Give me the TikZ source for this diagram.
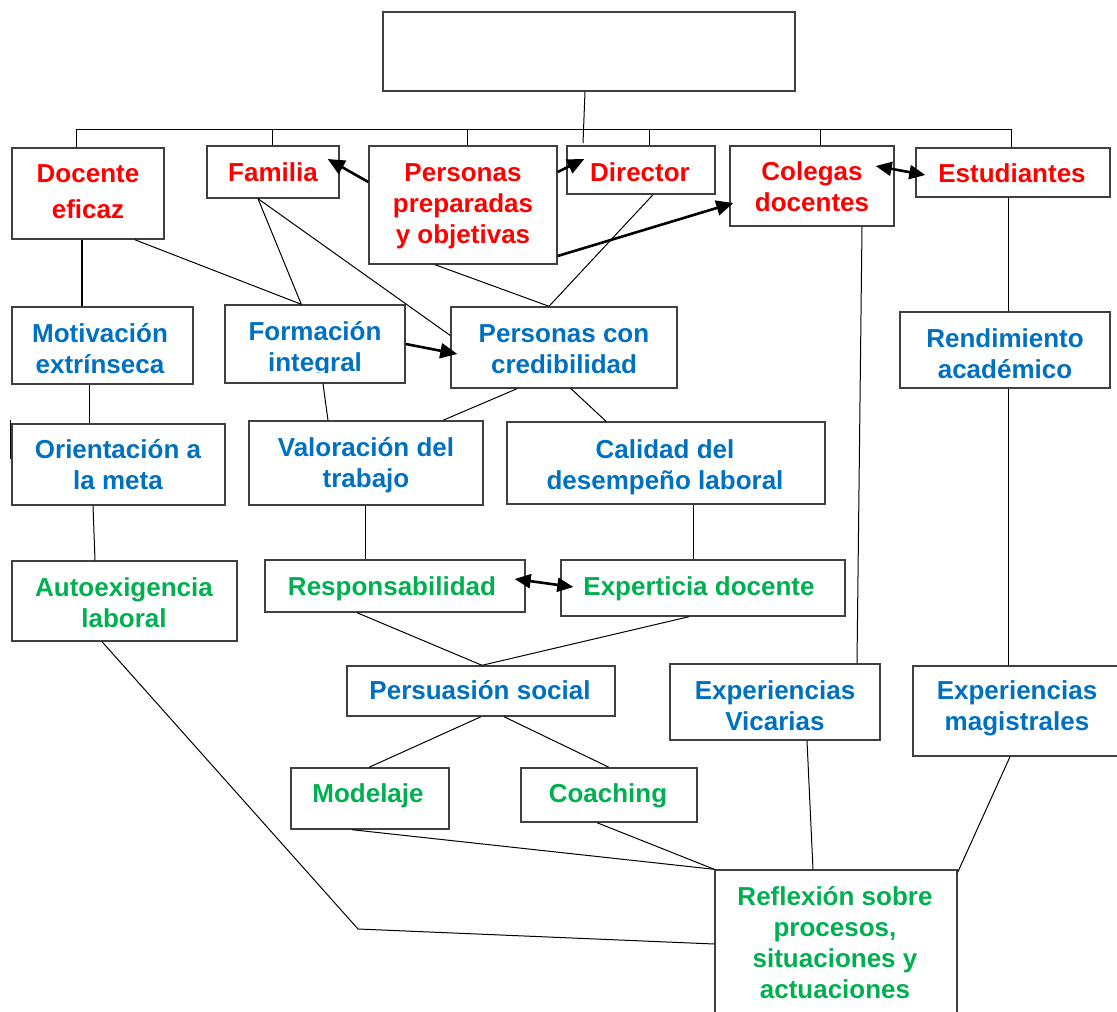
\documentclass[tikz,border=0pt]{standalone}
\usepackage{fontspec}
\setmainfont{Liberation Sans}
\usetikzlibrary{arrows.meta}
\definecolor{tred}{RGB}{255,0,0}
\definecolor{tblue}{RGB}{0,112,192}
\definecolor{tgreen}{RGB}{0,176,80}
\definecolor{edgegray}{RGB}{64,64,64}

\begin{document}
\begin{tikzpicture}[x=1pt,y=-1pt,
  box/.style={draw=edgegray, line width=1.4pt, rectangle, inner sep=0pt},
  lbl/.style={inner sep=0pt, align=center, font=\fontsize{26}{31}\selectfont\bfseries},
  rl/.style={lbl, text=tred},
  bl/.style={lbl, text=tblue},
  gl/.style={lbl, text=tgreen},
  conn/.style={draw=black, line width=1pt},
  heavy/.style={draw=black, line width=1.8pt},
  arr/.style={draw=black, line width=2.6pt, -{Triangle[length=17pt,width=15pt]}},
  darr/.style={draw=black, line width=2.6pt, {Triangle[length=16pt,width=14pt]}-{Triangle[length=16pt,width=14pt]}}
]
\fill[white] (0,0) rectangle (1117,1012);
\useasboundingbox (0,0) rectangle (1117,1012);

% ---------- boxes ----------
\node[box, minimum width=412pt, minimum height=79pt] (top) at (589,51.5) {};

\node[box, minimum width=152pt, minimum height=91pt]  (doc) at (88,193.5) {};
\node[box, minimum width=132pt, minimum height=52pt]  (fam) at (273,172) {};
\node[box, minimum width=188pt, minimum height=118pt] (ppo) at (463,205) {};
\node[box, minimum width=148pt, minimum height=48pt]  (dir) at (641,170) {};
\node[box, minimum width=164pt, minimum height=80pt]  (col) at (812,186) {};
\node[box, minimum width=194pt, minimum height=49pt]  (est) at (1013,172.5) {};

\node[box, minimum width=181pt, minimum height=77pt]  (mot) at (102.5,345.5) {};
\node[box, minimum width=180pt, minimum height=78pt]  (frm) at (315,344) {};
\node[box, minimum width=226pt, minimum height=81pt]  (pcc) at (564,347.5) {};
\node[box, minimum width=210pt, minimum height=76pt]  (ren) at (1005,350) {};

\node[box, minimum width=213pt, minimum height=81pt]  (ori) at (118.5,464.5) {};
\node[box, minimum width=234pt, minimum height=84pt]  (val) at (366,463) {};
\node[box, minimum width=318pt, minimum height=82pt]  (cal) at (666,463) {};

\node[box, minimum width=225pt, minimum height=80pt]  (aut) at (124.5,601) {};
\node[box, minimum width=260pt, minimum height=52pt]  (res) at (395,586) {};
\node[box, minimum width=284pt, minimum height=56pt]  (exd) at (703,588) {};

\node[box, minimum width=268pt, minimum height=50pt]  (per) at (481,691) {};
\node[box, minimum width=210pt, minimum height=76pt]  (exv) at (775,702) {};
\node[box, minimum width=209pt, minimum height=90pt]  (exm) at (1017.5,711) {};

\node[box, minimum width=158pt, minimum height=61pt]  (mod) at (370,798.5) {};
\node[box, minimum width=176pt, minimum height=54pt]  (coa) at (609,795) {};

\node[box, minimum width=242pt, minimum height=160pt] (ref) at (836,950) {};

% ---------- labels ----------
\node[rl, font=\fontsize{26}{36}\selectfont\bfseries] (docT) at (88,193) {\strut Docente\\\strut eficaz};
\node[rl] (famT) at (273,175) {\strut Familia};
\node[rl] (ppoT) at (463,206) {\strut Personas\\\strut preparadas\\\strut y objetivas};
\node[rl] (dirT) at (640,175) {\strut Director};
\node[rl] (colT) at (812,190) {\strut Colegas\\\strut docentes};
\node[rl] (estT) at (1012,176) {\strut Estudiantes};

\node[bl] (motT) at (100,352) {\strut Motivación\\\strut extrínseca};
\begin{scope}
  \clip (225,305) rectangle (405,372);
  \node[bl] (frmT) at (315,349.5) {\strut Formación\\\strut integral};
\end{scope}
\node[bl] (pccT) at (564,352) {\strut Personas con\\\strut credibilidad};
\node[bl] (renT) at (1005,357) {\strut Rendimiento\\\strut académico};

\node[bl] (oriT) at (118,468) {\strut Orientación a\\\strut la meta};
\node[bl] (valT) at (366,466) {\strut Valoración del\\\strut trabajo};
\node[bl] (calT) at (665,468) {\strut Calidad del\\\strut desempeño laboral};

\node[gl] (autT) at (124,606) {\strut Autoexigencia\\\strut laboral};
\node[gl] (resT) at (392,589) {\strut Responsabilidad};
\node[gl] (exdT) at (699,589) {\strut Experticia docente};

\node[bl] (perT) at (480,693) {\strut Persuasión social};
\node[bl] (exvT) at (775,709) {\strut Experiencias\\\strut Vicarias};
\node[bl] (exmT) at (1017,709) {\strut Experiencias\\\strut magistrales};

\node[gl] (modT) at (368,796) {\strut Modelaje};
\node[gl] (coaT) at (608,796) {\strut Coaching};

\node[gl] (refT) at (835,946) {\strut Reflexión sobre\\\strut procesos,\\\strut situaciones y\\\strut actuaciones};

% ---------- top tree ----------
\coordinate (busL) at (76,129);
\coordinate (busR) at (1012,129);
\coordinate (hub) at (583,143);
\coordinate (t1) at (76,129);
\coordinate (t2) at (272,129);
\coordinate (t3) at (467,129);
\coordinate (t4) at (649,129);
\coordinate (t5) at (820,129);
\coordinate (t6) at (1011,129);

\draw[conn] ([xshift=-4pt]top.south) -- (hub);
\draw[conn] (busL) -- (busR);
\draw[conn] (t1) -- (doc.north -| t1);
\draw[conn] (t2) -- (fam.north -| t2);
\draw[conn] (t3) -- (ppo.north -| t3);
\draw[conn] (t4) -- (dir.north -| t4);
\draw[conn] (t5) -- (col.north -| t5);
\draw[conn] (t6) -- (est.north -| t6);

% ---------- thin connectors ----------
\draw[heavy] ([xshift=-6pt]doc.south) -- ([xshift=-20.5pt]mot.north);
\draw[conn] ([xshift=-30pt]doc.south east) -- ([xshift=77pt]frm.north west);
\draw[conn] ([xshift=-15pt]fam.south) -- ([xshift=77pt]frm.north west);
\draw[conn] ([xshift=-15pt]fam.south) -- ([yshift=12pt]pcc.west);
\draw[conn] ([xshift=-28pt]ppo.south) -- ([xshift=-15pt]pcc.north);
\draw[conn] ([xshift=12pt]dir.south) -- ([xshift=-15pt]pcc.north);
\draw[conn] ([xshift=8pt]frm.south) -- ([xshift=-38pt]val.north);
\draw[conn] ([xshift=-47pt]pcc.south) -- ([xshift=77pt]val.north);
\draw[conn] ([xshift=7pt]pcc.south) -- ([xshift=-60pt]cal.north);
\draw[conn] ([xshift=-13.5pt]mot.south) -- ([xshift=-29.5pt]ori.north);
\draw[conn] ([xshift=-25.5pt]ori.south) -- ([xshift=-29.5pt]aut.north);
\draw[conn] ([xshift=-1pt]val.south) -- ([xshift=-30pt]res.north);
\draw[conn] ([xshift=27pt]cal.south) -- ([xshift=-10pt]exd.north);
\draw[conn] ([xshift=-38pt]res.south) -- ([xshift=1pt]per.north);
\draw[conn] ([xshift=-14pt]exd.south) -- ([xshift=1pt]per.north);
\draw[conn] (per.south) -- ([xshift=-1pt]mod.north);
\draw[conn] ([xshift=23pt]per.south) -- (coa.north);
\draw[conn] ([xshift=-18pt]mod.south) -- (ref.north west);
\draw[conn] ([xshift=-12pt]coa.south) -- (ref.north west);
\draw[conn] ([xshift=32pt]exv.south) -- ([xshift=-23pt]ref.north);
\draw[conn] ([xshift=-7.5pt]exm.south) -- ([yshift=-3pt]ref.north east);
\draw[conn] ([xshift=50pt]col.south) -- ([xshift=82pt]exv.north);
\draw[conn] ([xshift=-5pt]est.south) -- ([xshift=3pt]ren.north);
\draw[conn] ([xshift=3pt]ren.south) -- ([xshift=-9.5pt]exm.north);
\coordinate (bend) at (358,929);
\draw[conn] ([xshift=-22.5pt]aut.south) -- (bend) -- ([yshift=6pt]ref.west);

% short stray stroke at the left margin
\coordinate (s1) at (10,420);
\coordinate (s2) at (10,459);
\draw[conn] (s1) -- (s2);

% ---------- thick arrows ----------
\draw[arr] ([yshift=23pt]ppo.west) -- ([xshift=-12pt,yshift=13pt]fam.east);
\draw[arr] ([yshift=33pt]ppo.east) -- ([xshift=18pt,yshift=11pt]dir.west);
\draw[arr] ([yshift=-51pt]ppo.east) -- ([xshift=4pt,yshift=-17pt]col.west);
\draw[darr] ([xshift=-19pt,yshift=20pt]col.east) -- ([xshift=10pt,yshift=-2.5pt]est.west);
\draw[arr] (frm.east) -- ([xshift=7pt,yshift=-6.5pt]pcc.west);
\draw[darr] ([xshift=-11pt,yshift=7pt]res.east) -- ([xshift=13pt,yshift=1pt]exd.west);
\end{tikzpicture}
\end{document}
